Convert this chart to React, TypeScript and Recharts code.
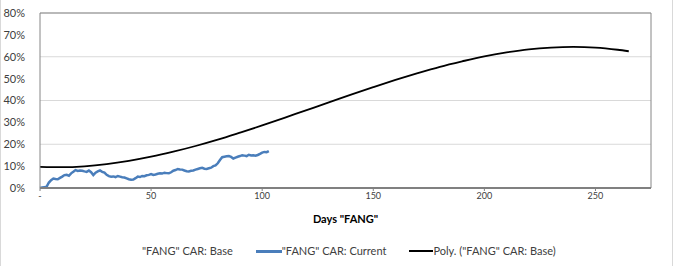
import React from 'react';
import {
  LineChart,
  Line,
  XAxis,
  YAxis,
  CartesianGrid,
  ReferenceLine,
  Legend
} from 'recharts';

// daily CAR for the current "FANG" run (percent), day 0..103
const currentCar = [
  0.0, 0.2, 0.4, 0.6, 2.5, 3.6, 4.3, 4.1, 4.0, 4.6,
  5.2, 5.9, 6.0, 5.6, 6.7, 7.4, 8.2, 7.8, 8.0, 7.9,
  7.6, 7.4, 8.0, 7.2, 5.9, 7.0, 7.6, 8.0, 7.4, 7.0,
  6.0, 5.4, 5.2, 5.3, 5.0, 5.5, 5.2, 4.9, 4.8, 4.4,
  4.0, 3.8, 3.9, 4.5, 5.2, 5.0, 5.5, 5.4, 5.8, 6.0,
  6.4, 6.0, 6.2, 6.5, 6.7, 6.6, 7.0, 6.8, 6.7, 7.2,
  7.9, 8.2, 8.7, 8.5, 8.4, 8.0, 7.7, 7.6, 7.9, 8.0,
  8.4, 8.7, 9.0, 9.2, 8.8, 8.7, 9.0, 9.3, 10.0, 10.3,
  11.3, 12.8, 14.1, 14.3, 14.5, 14.6, 14.2, 13.5, 13.9, 14.3,
  14.6, 15.0, 14.8, 14.6, 15.2, 14.9, 15.0, 14.8, 15.1, 15.6,
  16.2, 16.5, 16.4, 16.9
];

// polynomial trend of the base series
const polyDays = [0, 10, 20, 30, 40, 50, 60, 70, 80, 90, 100, 110, 120, 130, 140, 150, 160, 170, 180, 190, 200, 210, 220, 230, 240, 250, 260, 265];
const polyCar = [9.7, 9.5, 9.9, 10.9, 12.4, 14.3, 16.6, 19.2, 22.1, 25.3, 28.6, 32.1, 35.6, 39.1, 42.7, 46.1, 49.4, 52.5, 55.4, 57.9, 60.2, 62.0, 63.4, 64.2, 64.5, 64.2, 63.2, 62.5];

const xTicks = [0, 50, 100, 150, 200, 250];
const yTicks = [0, 10, 20, 30, 40, 50, 60, 70, 80];

const currentData = currentCar.map((v, i) => ({ day: i, car: v }));
const polyData = polyDays.map((d, i) => ({ day: d, car: polyCar[i] }));

const FONT = 'Lato, "Liberation Sans", sans-serif';
const TEXT = '#404040';

const LegendRow = () => (
  <div style={{ display: 'flex', alignItems: 'center', fontFamily: FONT, fontSize: 11, lineHeight: '14px', color: TEXT, paddingLeft: 142 }}>
    <span>"FANG" CAR: Base</span>
    <span style={{ display: 'inline-block', width: 26, height: 3, background: '#4a7ebb', marginLeft: 23 }} />
    <span>"FANG" CAR: Current</span>
    <span style={{ display: 'inline-block', width: 24, height: 2, background: '#000', marginLeft: 23 }} />
    <span>Poly. ("FANG" CAR: Base)</span>
  </div>
);

export default function App() {
  return (
    <div style={{ position: 'absolute', left: 0, top: 0, width: 675, height: 266, background: '#fff' }}>
      <div style={{ position: 'absolute', left: 0, top: 0, width: 1, height: 266, background: '#d9d9d9' }} />
      <div style={{ position: 'absolute', left: 672, top: 0, width: 1, height: 266, background: '#d9d9d9' }} />
      <LineChart width={675} height={266} margin={{ top: 13, right: 24, left: 0, bottom: 29 }}>
        <CartesianGrid horizontal vertical={false} stroke="#d9d9d9" />
        <XAxis
          type="number"
          dataKey="day"
          domain={[0, 275]}
          ticks={xTicks}
          allowDuplicatedCategory={false}
          tickFormatter={(v: number) => (v === 0 ? '-' : String(v))}
          tick={{ fill: TEXT, fontFamily: FONT, fontSize: 9 }}
          axisLine={{ stroke: '#808080', strokeWidth: 2 }}
          tickLine={{ stroke: '#808080' }}
          tickSize={3}
          height={35}
          label={{ value: 'Days "FANG"', position: 'insideBottom', offset: 0, style: { fill: '#000', fontFamily: FONT, fontSize: 11, fontWeight: 'bold' } }}
        />
        <YAxis
          type="number"
          domain={[0, 80]}
          ticks={yTicks}
          width={40}
          tickFormatter={(v: number) => `${v}%`}
          tick={{ fill: TEXT, fontFamily: FONT, fontSize: 11 }}
          axisLine={{ stroke: '#868686' }}
          tickLine={false}
          tickMargin={9}
        />
        <ReferenceLine y={80} stroke="#868686" />
        <ReferenceLine x={275} stroke="#868686" />
        <Line data={currentData} dataKey="car" type="linear" stroke="#4a7ebb" strokeWidth={2.5} dot={false} isAnimationActive={false} />
        <Line data={polyData} dataKey="car" type="monotone" stroke="#000" strokeWidth={1.8} dot={false} isAnimationActive={false} />
        <Legend content={() => <LegendRow />} wrapperStyle={{ left: 0, bottom: 8, width: 675 }} />
      </LineChart>
    </div>
  );
}
